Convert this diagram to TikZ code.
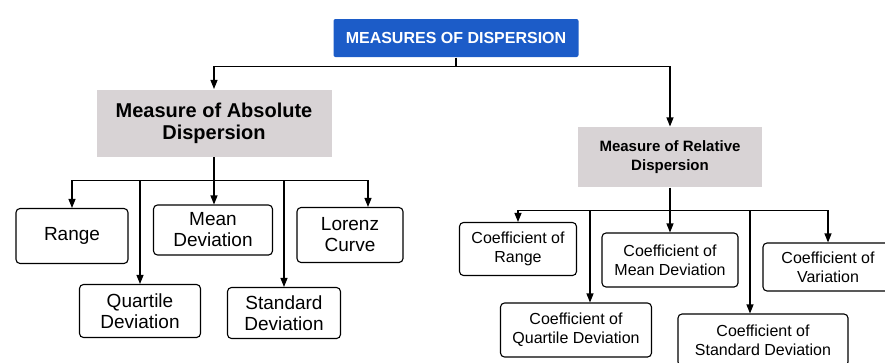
\documentclass[tikz,border=0pt]{standalone}
\usepackage{fontspec}
\setmainfont{Liberation Sans}
\usetikzlibrary{arrows.meta}

\definecolor{topblue}{RGB}{28,92,200}
\definecolor{boxgray}{RGB}{216,211,213}

\tikzset{
  arr/.style={-{Triangle[length=9pt,width=7pt]}},
  item/.style={draw, rounded corners=4pt, align=center, inner sep=0pt,
    font=\fontsize{19}{21}\selectfont},
  coef/.style={item, font=\fontsize{16}{19}\selectfont},
  group/.style={fill=boxgray, align=center, inner sep=0pt,
    font=\bfseries\fontsize{20}{22}\selectfont},
}

\begin{document}
\begin{tikzpicture}[x=1pt, y=-1pt, line width=1.1pt]
            \useasboundingbox (0,0) rectangle (885,362);

            \node [fill=topblue, text=white, rounded corners=2pt, minimum width=245pt, minimum height=38pt,
              font=\bfseries\fontsize{16}{18}\selectfont] (mod) at (456,38) {MEASURES OF DISPERSION};
            \node [group, minimum width=235pt, minimum height=67pt] (abs) at (214,123) {Measure of Absolute\\Dispersion};
            \node [group, minimum width=184pt, minimum height=60pt,
              font=\bfseries\fontsize{15}{19}\selectfont] (rel) at (670,157) {Measure of Relative\\Dispersion};

            % absolute measures
            \node [item, minimum width=112pt, minimum height=55pt] (rng) at (72,236) {Range};
            \node [item, minimum width=119pt, minimum height=50pt] (md) at (213,230) {Mean\\Deviation};
            \node [item, minimum width=106pt, minimum height=55pt] (lor) at (350,235) {Lorenz\\Curve};
            \node [item, minimum width=121pt, minimum height=53pt] (qd) at (140,311) {Quartile\\Deviation};
            \node [item, minimum width=113pt, minimum height=51pt] (sd) at (284,313) {Standard\\Deviation};

            % relative measures
            \node [coef, minimum width=117pt, minimum height=53pt] (cr) at (518,249) {Coefficient of\\Range};
            \node [coef, minimum width=136pt, minimum height=54pt] (cmd) at (670,260) {Coefficient of\\Mean Deviation};
            \node [coef, minimum width=130pt, minimum height=48pt] (cv) at (828,267) {Coefficient of\\Variation};
            \node [coef, minimum width=151pt, minimum height=54pt] (cqd) at (576,330) {Coefficient of\\Quartile Deviation};
            \node [coef, minimum width=170pt, minimum height=52pt] (csd) at (763,340) {Coefficient of\\Standard Deviation};

            \draw (mod.south) -- ++(0,9) coordinate (tb);
            \draw [arr] (tb) -| (abs.north);
            \draw [arr] (tb) -| (rel.north);

            \draw (abs.south) -- ++(0,23) coordinate (ab);
            \draw [arr] (ab) -| (rng.north);
            \draw [arr] (ab) -- (md.north -| ab);
            \draw [arr] (ab) -| ([xshift=18pt]lor.north);
            \draw [arr] (qd.north |- ab) -- (qd.north);
            \draw [arr] (sd.north |- ab) -- (sd.north);

            \draw (rel.south) -- ++(0,23) coordinate (rb);
            \draw [arr] (rb) -| (cr.north);
            \draw [arr] (rb) -- (cmd.north);
            \draw [arr] (rb) -| (cv.north);
            \draw [arr] ([xshift=14pt]cqd.north |- rb) -- ([xshift=14pt]cqd.north);
            \draw [arr] ([xshift=-13pt]csd.north |- rb) -- ([xshift=-13pt]csd.north);
        \end{tikzpicture}
\end{document}
